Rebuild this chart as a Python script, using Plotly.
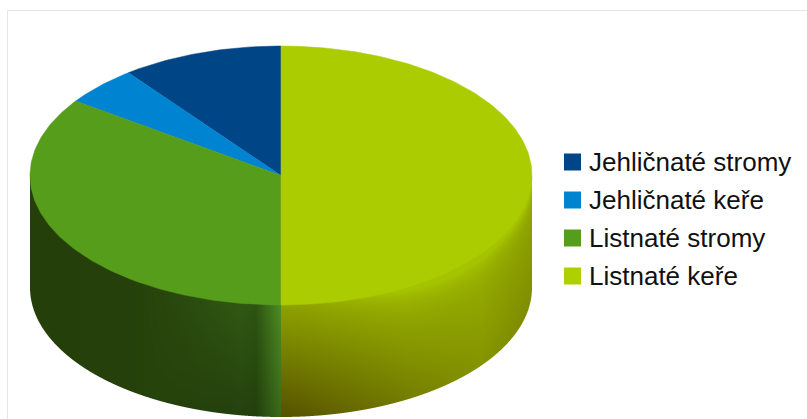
import math
import numpy as np
import plotly.graph_objects as go

# Share of each woody plant group, counter-clockwise from twelve o'clock
categories = ["Jehličnaté stromy", "Jehličnaté keře", "Listnaté stromy", "Listnaté keře"]
shares = [10.4, 4.85, 34.75, 50.0]
face_colors = ["#004586", "#0084d1", "#579d1c", "#aacc00"]
key_colors = ["#004586", "#0084d1", "#579d1c", "#aecf00"]

WIDTH, HEIGHT = 807, 419
CX, CY, RX, RY, DEPTH = 281.0, 175.5, 251.0, 129.5, 112.0


def ring_point(phi):
    return CX - RX * math.sin(phi), CY - RY * math.cos(phi)


cum = np.concatenate([[0.0], np.cumsum(shares)])
total = cum[-1]

# Shading of the side wall: colour ramps over the normalised horizontal position
GX = [-1.00, -0.60, -0.38, -0.16, -0.10, 0.0]
GR = [37, 37, 42, 48, 45, 78]
GG = [63, 64, 75, 88, 84, 140]
GB = [10, 10, 14, 18, 17, 35]
YX = [0.0, 0.5, 0.8, 1.0]
YA = [0.70, 0.78, 0.72, 0.52]
YS = [0.00625, 0.0042, 0.0022, 0.0020]


def green_wall(x, t):
    dim = 1 - 0.25 * t * np.clip((x + 0.55) / 0.35, 0, 1)
    return (np.interp(x, GX, GR) * dim, np.interp(x, GX, GG) * dim, np.interp(x, GX, GB) * dim)


def yellow_wall(x, py, t):
    rim = 0.3 * np.exp(-t / 0.1) * np.clip((x - 0.1) / 0.6, 0, 1)
    s = np.clip(np.interp(x, YX, YA) - np.interp(x, YX, YS) * (py - 305) + rim, 0, 1)
    return (85 + 80 * s, 80 + 116 * s, 0 * s)


# Rasterise the wall on a pixel grid with anti-aliased coverage in the alpha channel
left, right = int(CX - RX) - 1, int(CX + RX) + 2
top, bottom = int(CY), min(HEIGHT, int(CY + RY + DEPTH) + 2)
px, py = np.meshgrid(np.arange(left, right) + 0.5, np.arange(top, bottom) + 0.5)
x = (px - CX) / RX
arc = np.sqrt(np.clip(1 - x * x, 0, 1))
t = np.clip((py - (CY + arc * RY)) / DEPTH, 0, 1)
split = ring_point(cum[3] / total * 2 * math.pi)[0]
rgb_g = green_wall(x, t)
rgb_y = yellow_wall(x, py, t)
rgb = [np.where(px >= split, a, b) for a, b in zip(rgb_y, rgb_g)]

samples = (np.arange(4) + 0.5) / 4 - 0.5
cover = np.zeros_like(px)
for sx in samples:
    for sy in samples:
        xs = (px + sx - CX) / RX
        inside = np.abs(xs) <= 1
        low = CY + DEPTH + RY * np.sqrt(np.clip(1 - xs * xs, 0, 1))
        cover += inside & (py + sy <= low) & (py + sy >= CY)
cover /= 16.0
wall = np.dstack(rgb + [cover])

fig = go.Figure()
fig.add_trace(go.Image(z=wall.tolist(), colormodel="rgba", hoverinfo="skip",
                       x0=left + 0.5, dx=1, y0=top + 0.5, dy=1))

# Top face of the pie
for i, name in enumerate(categories):
    a0 = cum[i] / total * 2 * math.pi
    a1 = cum[i + 1] / total * 2 * math.pi
    n = max(4, int((a1 - a0) * 60))
    fx, fy = [CX], [CY]
    for k in range(n + 1):
        ex, ey = ring_point(a0 + (a1 - a0) * k / n)
        fx.append(ex)
        fy.append(ey)
    fx.append(CX)
    fy.append(CY)
    fig.add_trace(go.Scatter(x=fx, y=fy, mode="lines", fill="toself", fillcolor=face_colors[i],
                             line=dict(color=face_colors[i], width=0.5), name=name,
                             hoverinfo="name", showlegend=False))

# Legend keys and labels on the right
for i, name in enumerate(categories):
    ly = 162.0 + 38.0 * i
    fig.add_trace(go.Scatter(x=[572.5], y=[ly], mode="markers", hoverinfo="skip", showlegend=False,
                             marker=dict(symbol="square", size=17, color=key_colors[i], line=dict(width=0))))
    fig.add_annotation(x=587, y=ly, text=name, showarrow=False, xanchor="left",
                       yanchor="middle", font=dict(family="Liberation Sans", size=26, color="#111111"))

fig.update_layout(
    width=WIDTH, height=HEIGHT, margin=dict(l=0, r=0, t=0, b=0),
    paper_bgcolor="white", plot_bgcolor="white", showlegend=False,
    xaxis=dict(visible=False, range=[0, WIDTH], autorange=False, fixedrange=True),
    yaxis=dict(visible=False, range=[HEIGHT, 0], autorange=False, fixedrange=True),
    shapes=[dict(type="path", xref="x", yref="y",
                 path="M 7.5,%d L 7.5,10.5 L %d,10.5" % (HEIGHT, WIDTH),
                 line=dict(color="#e6e6e6", width=1), layer="below")],
)
fig.write_html("out.html", config=dict(displayModeBar=False))
